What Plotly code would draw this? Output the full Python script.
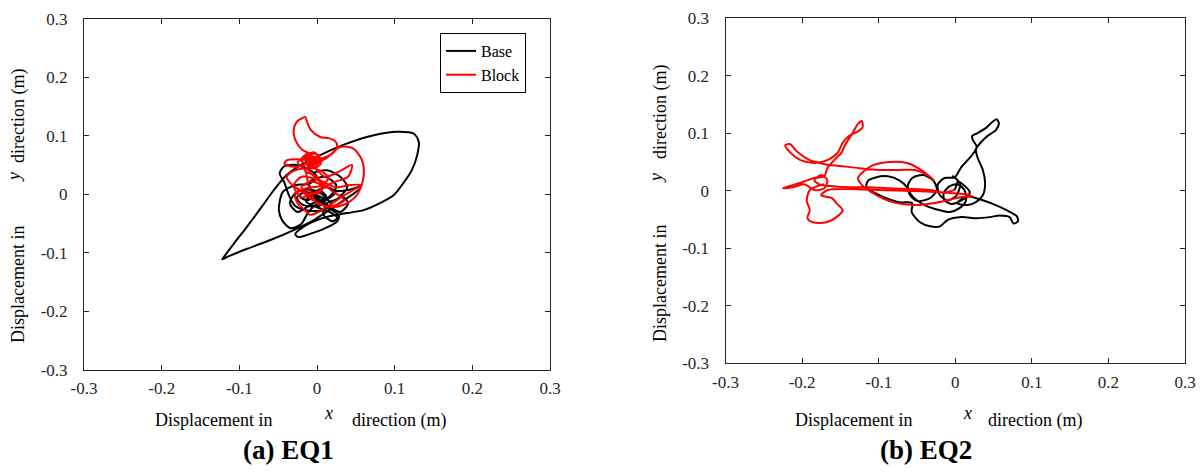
import plotly.graph_objects as go

# ---- axis ticks (shared by both panels) ----
tick_vals = [-0.3, -0.2, -0.1, 0.0, 0.1, 0.2, 0.3]
tick_text = ["-0.3", "-0.2", "-0.1", "0", "0.1", "0.2", "0.3"]

# ---- EQ1: base displacement orbit (m) ----
eq1_base_x = [0.000, -0.012, -0.022, -0.014, 0.002, 0.012, 0.002, -0.018, -0.026, -0.016,
              0.004, 0.018, 0.010, -0.010, -0.028, -0.036, -0.042, -0.048, -0.042, -0.026,
              -0.010, 0.000, -0.010, -0.028, -0.044, -0.048, -0.049, -0.045, -0.034, -0.020,
              -0.012, 0.000, 0.014, 0.024, 0.013, -0.004, -0.014, 0.000, 0.016, 0.026,
              0.020, 0.008, 0.013, 0.026, 0.034, 0.039, 0.030, 0.013, -0.004, 0.006,
              0.024, 0.042, 0.057, 0.050, 0.030, 0.010, -0.004, -0.030, -0.060, -0.090,
              -0.114, -0.122, -0.116, -0.107, -0.090, -0.071, -0.054, -0.039, -0.021, 0.004,
              0.039, 0.073, 0.103, 0.124, 0.131, 0.129, 0.122, 0.111, 0.099, 0.081,
              0.060, 0.039, 0.017, 0.000, -0.018, -0.028, -0.024, -0.008, 0.010, 0.026,
              0.028, 0.016, 0.002, -0.008, 0.004, 0.012, 0.002, -0.010, 0.010, 0.025,
              0.015, -0.005, -0.025, -0.035, -0.025, -0.005, 0.015, 0.030, 0.040, 0.030]
eq1_base_y = [0.000, -0.010, -0.004, 0.008, 0.004, -0.008, -0.020, -0.018, -0.006, 0.004,
              -0.004, -0.014, -0.026, -0.028, -0.020, -0.002, 0.020, 0.036, 0.048, 0.050,
              0.042, 0.030, 0.018, 0.016, 0.004, -0.012, -0.028, -0.044, -0.058, -0.050,
              -0.032, -0.016, -0.008, 0.004, 0.012, 0.004, -0.012, -0.022, -0.030, -0.040,
              -0.046, -0.034, -0.015, -0.008, 0.002, 0.013, 0.030, 0.041, 0.036, 0.020,
              0.006, 0.008, 0.014, 0.004, -0.014, -0.032, -0.044, -0.061, -0.078, -0.093,
              -0.106, -0.111, -0.100, -0.084, -0.055, -0.021, 0.010, 0.033, 0.050, 0.067,
              0.087, 0.101, 0.107, 0.104, 0.090, 0.067, 0.041, 0.019, -0.001, -0.015,
              -0.027, -0.032, -0.037, -0.044, -0.056, -0.068, -0.073, -0.067, -0.058, -0.046,
              -0.036, -0.024, -0.012, -0.002, 0.006, -0.004, -0.010, 0.020, 0.030, 0.015,
              -0.005, -0.015, -0.030, -0.015, 0.005, 0.000, -0.020, -0.030, -0.015, 0.000]

# ---- EQ1: block displacement orbit (m) ----
eq1_block_x = [0.000, 0.008, -0.006, -0.020, -0.010, 0.006, 0.000, -0.015, -0.005, -0.016,
               -0.003, -0.012, 0.000, -0.008, -0.019, -0.028, -0.030, -0.026, -0.015, -0.013,
               -0.008, 0.004, 0.015, 0.024, 0.026, 0.020, 0.008, -0.008, -0.025, -0.039,
               -0.042, -0.030, -0.010, 0.010, 0.030, 0.047, 0.058, 0.060, 0.053, 0.039,
               0.026, 0.010, -0.005, -0.020, -0.035, -0.039, -0.030, -0.010, 0.005, 0.015,
               0.005, -0.015, -0.028, -0.025, -0.013, -0.009, 0.005, 0.020, 0.035, 0.050,
               0.056, 0.043, 0.025, 0.010, -0.005, -0.012, -0.006, 0.004, -0.012, -0.021,
               -0.006, 0.006, -0.004, -0.016, -0.008, 0.002, -0.010, 0.010, 0.030, 0.045,
               0.040, 0.020, 0.000, -0.020, -0.030, -0.020, 0.000, 0.020, 0.035, 0.020,
               0.000, -0.010, -0.015, -0.025, -0.010, 0.005, -0.005]
eq1_block_y = [0.000, 0.012, 0.022, 0.012, 0.000, 0.010, 0.030, 0.040, 0.055, 0.066,
               0.062, 0.050, 0.046, 0.068, 0.076, 0.093, 0.110, 0.124, 0.132, 0.124,
               0.110, 0.098, 0.096, 0.090, 0.081, 0.070, 0.062, 0.058, 0.060, 0.058,
               0.052, 0.047, 0.052, 0.060, 0.081, 0.078, 0.058, 0.030, 0.002, -0.015,
               -0.021, -0.020, -0.010, 0.005, 0.020, 0.030, 0.040, 0.045, 0.040, 0.028,
               0.015, 0.010, 0.000, -0.015, -0.030, -0.035, -0.028, -0.015, -0.002, 0.010,
               0.016, 0.016, 0.012, 0.020, 0.032, 0.046, 0.060, 0.066, 0.070, 0.058,
               0.050, 0.056, 0.072, 0.062, 0.054, 0.062, 0.064, 0.030, 0.040, 0.050,
               0.030, 0.020, 0.005, -0.005, 0.015, 0.030, 0.025, 0.005, -0.010, -0.020,
               -0.015, 0.010, 0.040, 0.055, 0.062, 0.052, 0.044]

# ---- EQ2: base displacement orbit (m) ----
eq2_base_x = [-0.001, 0.003, -0.003, 0.006, 0.002, -0.010, -0.020, -0.023, -0.014, -0.001,
              0.008, 0.022, 0.028, 0.023, 0.022, 0.029, 0.041, 0.048, 0.054, 0.057,
              0.053, 0.042, 0.035, 0.027, 0.029, 0.036, 0.039, 0.036, 0.027, 0.016,
              0.003, 0.015, 0.032, 0.049, 0.067, 0.080, 0.082, 0.076, 0.071, 0.058,
              0.045, 0.028, 0.008, -0.010, -0.020, -0.033, -0.046, -0.057, -0.056, -0.073,
              -0.090, -0.105, -0.116, -0.114, -0.104, -0.088, -0.073, -0.063, -0.059, -0.049,
              -0.033, -0.024, -0.029, -0.042, -0.056, -0.062, -0.057, -0.040, -0.020, -0.007,
              0.006, 0.014, 0.012, 0.003, -0.007, -0.015, -0.014, -0.005, 0.008, 0.019,
              0.006]
eq2_base_y = [0.001, 0.018, 0.025, 0.013, -0.008, -0.017, -0.008, 0.010, 0.022, 0.023,
              0.041, 0.062, 0.076, 0.088, 0.095, 0.100, 0.110, 0.119, 0.124, 0.117,
              0.105, 0.095, 0.086, 0.072, 0.058, 0.036, 0.013, -0.008, -0.020, -0.025,
              -0.022, -0.010, -0.015, -0.023, -0.034, -0.044, -0.053, -0.057, -0.046, -0.043,
              -0.046, -0.048, -0.046, -0.051, -0.062, -0.062, -0.055, -0.037, -0.022, -0.020,
              -0.013, -0.004, 0.006, 0.017, 0.023, 0.025, 0.018, 0.006, -0.008, -0.018,
              -0.013, 0.001, 0.018, 0.027, 0.022, 0.008, -0.008, -0.025, -0.034, -0.037,
              -0.030, -0.017, 0.001, 0.011, 0.008, -0.004, -0.017, -0.023, -0.017, -0.003,
              0.015]

# ---- EQ2: block displacement orbit (m) ----
eq2_block_x = [-0.001, -0.014, -0.033, -0.059, -0.086, -0.112, -0.138, -0.164, -0.177, -0.184,
               -0.175, -0.167, -0.171, -0.184, -0.197, -0.212, -0.225, -0.216, -0.199, -0.184,
               -0.171, -0.167, -0.158, -0.148, -0.144, -0.135, -0.127, -0.122, -0.121, -0.127,
               -0.139, -0.147, -0.154, -0.167, -0.184, -0.202, -0.216, -0.222, -0.216, -0.206,
               -0.190, -0.171, -0.151, -0.125, -0.099, -0.073, -0.053, -0.036, -0.028, -0.040,
               -0.063, -0.086, -0.108, -0.121, -0.127, -0.122, -0.108, -0.082, -0.050, -0.029,
               -0.011, 0.008, 0.022, 0.012, -0.007, -0.046, -0.099, -0.138, -0.167, -0.175,
               -0.161, -0.155, -0.147, -0.155, -0.168, -0.186, -0.193, -0.190, -0.194, -0.190,
               -0.180, -0.171]
eq2_block_y = [0.001, -0.003, 0.001, 0.003, 0.004, 0.006, 0.006, 0.008, 0.011, 0.018,
               0.027, 0.018, 0.004, 0.001, 0.011, 0.006, 0.004, 0.008, 0.015, 0.022,
               0.025, 0.039, 0.053, 0.067, 0.079, 0.098, 0.116, 0.121, 0.110, 0.103,
               0.095, 0.083, 0.065, 0.053, 0.048, 0.053, 0.067, 0.079, 0.081, 0.067,
               0.053, 0.046, 0.043, 0.039, 0.036, 0.036, 0.036, 0.027, 0.018, 0.032,
               0.048, 0.050, 0.044, 0.032, 0.022, 0.010, -0.004, -0.020, -0.025, -0.022,
               -0.017, -0.011, -0.010, -0.006, -0.004, -0.001, 0.001, 0.003, 0.001, -0.008,
               -0.013, -0.022, -0.034, -0.046, -0.055, -0.055, -0.048, -0.034, -0.017, 0.001,
               0.008, 0.011]

SERIF = "Liberation Serif, Times New Roman, serif"
AXIS_COLOR = "#262626"
W, H = 1200, 474


def px(x):
    return x / W


def py(y):
    return 1 - y / H


fig = go.Figure()

line_kw = dict(shape="spline", smoothing=0.8, width=2)
fig.add_trace(go.Scatter(x=eq1_base_x, y=eq1_base_y, mode="lines", name="Base",
                         line=dict(color="#000000", **line_kw), xaxis="x", yaxis="y"))
fig.add_trace(go.Scatter(x=eq1_block_x, y=eq1_block_y, mode="lines", name="Block",
                         line=dict(color="#ff0000", **line_kw), xaxis="x", yaxis="y"))
fig.add_trace(go.Scatter(x=eq2_base_x, y=eq2_base_y, mode="lines", name="Base",
                         showlegend=False,
                         line=dict(color="#000000", **line_kw), xaxis="x2", yaxis="y2"))
fig.add_trace(go.Scatter(x=eq2_block_x, y=eq2_block_y, mode="lines", name="Block",
                         showlegend=False,
                         line=dict(color="#ff0000", **line_kw), xaxis="x2", yaxis="y2"))

axis_common = dict(
    range=[-0.3, 0.3], tickmode="array", tickvals=tick_vals, ticktext=tick_text,
    showline=True, linecolor=AXIS_COLOR, linewidth=1, mirror="ticks",
    ticks="inside", ticklen=5, tickcolor=AXIS_COLOR, showgrid=False, zeroline=False,
    tickfont=dict(family=SERIF, size=17, color=AXIS_COLOR), fixedrange=True,
    automargin=False,
)

fig.update_layout(
    template="none",
    width=W, height=H,
    font=dict(family=SERIF, color="#000000"),
    margin=dict(l=0, r=0, t=0, b=0, pad=0),
    paper_bgcolor="white", plot_bgcolor="white",
    xaxis=dict(domain=[px(84), px(550)], anchor="y", ticklabelstandoff=3, **axis_common),
    yaxis=dict(domain=[py(370), py(18.7)], anchor="x", ticklabelstandoff=12, **axis_common),
    xaxis2=dict(domain=[px(725.5), px(1185)], anchor="y2", ticklabelstandoff=3, **axis_common),
    yaxis2=dict(domain=[py(363.3), py(18)], anchor="x2", ticklabelstandoff=12, **axis_common),
    legend=dict(x=px(440), y=py(33), xanchor="left", yanchor="top",
                bgcolor="white", bordercolor="#000000", borderwidth=1,
                font=dict(family=SERIF, size=16, color="#000000"),
                itemwidth=30, tracegroupgap=0),
    showlegend=True,
)

annotations = []


def text_at(x, y, text, size=18, angle=0, bold=False):
    annotations.append(dict(
        x=px(x), y=py(y), xref="paper", yref="paper", showarrow=False,
        text=("<b>%s</b>" % text) if bold else text, textangle=angle,
        xanchor="center", yanchor="middle",
        font=dict(family=SERIF, size=size, color="#000000"),
    ))


# x-axis titles
for x_disp, x_var, x_dir in [(213, 328, 398.5), (853, 967, 1034.5)]:
    text_at(x_disp, 420, "Displacement in")
    text_at(x_var, 413, "<i>x</i>")
    text_at(x_dir, 420, "direction (m)")

# y-axis titles (rotated)
for x0, y_disp, y_var, y_dir in [(18, 285, 177, 116), (660, 284, 178, 112)]:
    text_at(x0, y_disp, "Displacement in", angle=-90)
    text_at(x0 - 4, y_var, "<i>y</i>", angle=-90)
    text_at(x0, y_dir, "direction (m)", angle=-90)

# panel captions
text_at(288, 450, "(a) EQ1", size=27, bold=True)
text_at(926, 450, "(b) EQ2", size=27, bold=True)

fig.update_layout(annotations=annotations)

fig.write_html("out.html")
